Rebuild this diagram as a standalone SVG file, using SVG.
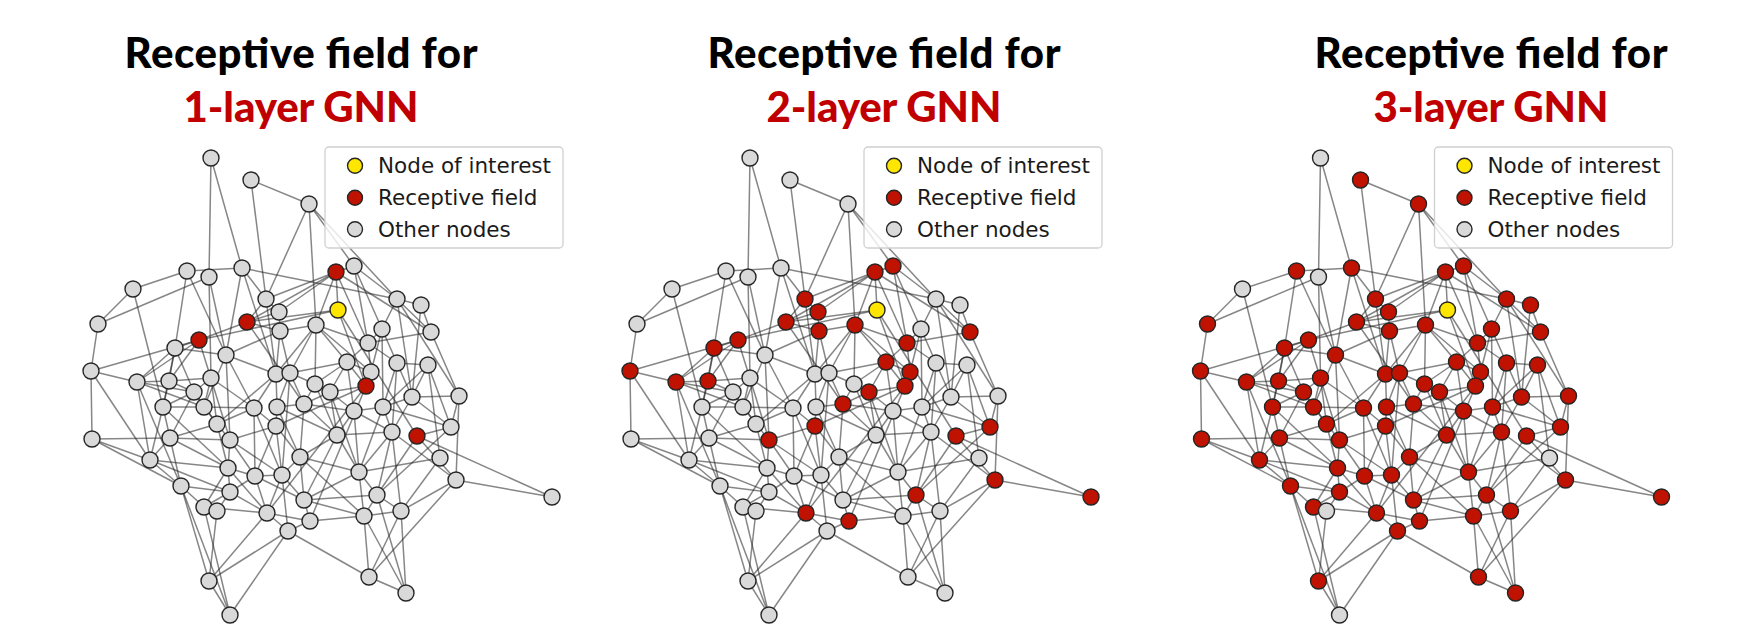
<svg xmlns="http://www.w3.org/2000/svg" xmlns:xlink="http://www.w3.org/1999/xlink" width="1738" height="642" viewBox="0 0 1738 642">
<style>
.t1{font-family:Lato,"Liberation Sans",sans-serif;font-weight:900;font-size:42px;fill:#000;text-anchor:middle}
.t2{font-family:Lato,"Liberation Sans",sans-serif;font-weight:900;font-size:42px;fill:#c00000;text-anchor:middle}
.lg{font-family:"DejaVu Sans",sans-serif;font-size:21.5px;fill:#1a1a1a}
.box{fill:#fff;fill-opacity:.8;stroke:#d0d0d0;stroke-width:1.3}
.e path{stroke:#222;stroke-opacity:.55;stroke-width:1.5;fill:none}
circle{stroke:#262626;stroke-width:1.4}
.g{fill:#d9d9d9}.r{fill:#c01200}.y{fill:#ffe600}
</style>
<defs>
<g id="edges" class="e">
<path d="M336 272L338 310"/><path d="M338 310L247 322"/><path d="M338 310L199 340"/><path d="M338 310L366 386"/><path d="M338 310L417 436"/>
<path d="M211 158L209 277"/><path d="M211 158L242 268"/><path d="M251 180L309 204"/><path d="M251 180L266 299"/>
<path d="M309 204L354 266"/><path d="M309 204L266 299"/><path d="M309 204L316 325"/><path d="M309 204L397 299"/>
<path d="M187 271L133 289"/><path d="M187 271L175 348"/><path d="M187 271L242 268"/><path d="M187 271L226 355"/>
<path d="M209 277L98 324"/><path d="M209 277L226 355"/><path d="M209 277L211 378"/>
<path d="M242 268L266 299"/><path d="M242 268L397 299"/><path d="M242 268L276 374"/><path d="M242 268L226 355"/>
<path d="M336 272L354 266"/><path d="M336 272L266 299"/><path d="M336 272L279 312"/><path d="M336 272L247 322"/><path d="M336 272L316 325"/><path d="M336 272L368 343"/><path d="M336 272L431 332"/>
<path d="M354 266L397 299"/><path d="M354 266L382 329"/><path d="M354 266L368 343"/>
<path d="M133 289L163 407"/><path d="M133 289L98 324"/><path d="M98 324L91 371"/>
<path d="M266 299L247 322"/><path d="M266 299L276 374"/><path d="M266 299L279 312"/>
<path d="M279 312L247 322"/><path d="M279 312L280 331"/>
<path d="M247 322L199 340"/><path d="M247 322L280 331"/><path d="M247 322L304 404"/>
<path d="M199 340L175 348"/><path d="M199 340L91 371"/><path d="M199 340L137 382"/><path d="M199 340L169 381"/><path d="M199 340L230 440"/>
<path d="M280 331L290 373"/><path d="M280 331L226 355"/><path d="M280 331L276 374"/><path d="M280 331L316 325"/>
<path d="M316 325L347 362"/><path d="M316 325L315 384"/><path d="M316 325L371 372"/><path d="M316 325L276 374"/><path d="M316 325L290 373"/><path d="M316 325L368 343"/>
<path d="M175 348L163 407"/><path d="M175 348L226 355"/><path d="M175 348L194 392"/><path d="M175 348L169 381"/><path d="M175 348L137 382"/>
<path d="M347 362L366 386"/><path d="M347 362L290 373"/><path d="M347 362L371 372"/><path d="M347 362L354 411"/><path d="M347 362L315 384"/><path d="M347 362L330 392"/><path d="M347 362L368 343"/>
<path d="M91 371L92 439"/><path d="M91 371L137 382"/><path d="M91 371L150 460"/>
<path d="M397 299L421 305"/><path d="M397 299L382 329"/><path d="M397 299L412 397"/><path d="M397 299L459 396"/><path d="M397 299L431 332"/>
<path d="M421 305L431 332"/><path d="M421 305L412 397"/><path d="M382 329L371 372"/><path d="M382 329L383 407"/><path d="M382 329L397 363"/><path d="M382 329L368 343"/>
<path d="M431 332L368 343"/><path d="M431 332L459 396"/>
<path d="M368 343L371 372"/><path d="M368 343L397 363"/>
<path d="M397 363L428 365"/><path d="M397 363L412 397"/><path d="M397 363L392 432"/><path d="M397 363L383 407"/>
<path d="M428 365L451 427"/><path d="M428 365L412 397"/><path d="M428 365L440 458"/><path d="M428 365L383 407"/>
<path d="M371 372L366 386"/>
<path d="M137 382L150 460"/><path d="M137 382L204 407"/><path d="M137 382L194 392"/><path d="M137 382L181 486"/><path d="M137 382L169 381"/>
<path d="M169 381L163 407"/><path d="M169 381L211 378"/><path d="M169 381L194 392"/>
<path d="M211 378L194 392"/><path d="M211 378L204 407"/><path d="M211 378L217 424"/><path d="M211 378L254 408"/>
<path d="M226 355L254 408"/><path d="M226 355L276 374"/><path d="M226 355L204 407"/><path d="M226 355L230 440"/>
<path d="M276 374L254 408"/><path d="M276 374L277 407"/><path d="M276 374L290 373"/><path d="M276 374L217 424"/>
<path d="M290 373L315 384"/><path d="M290 373L282 475"/><path d="M290 373L304 404"/><path d="M290 373L277 407"/>
<path d="M315 384L330 392"/><path d="M315 384L304 404"/><path d="M315 384L337 435"/>
<path d="M330 392L366 386"/><path d="M330 392L354 411"/><path d="M330 392L337 435"/><path d="M330 392L359 472"/><path d="M330 392L304 404"/>
<path d="M194 392L163 407"/><path d="M194 392L204 407"/><path d="M194 392L217 424"/><path d="M194 392L170 438"/>
<path d="M366 386L276 426"/><path d="M366 386L310 521"/><path d="M366 386L267 513"/>
<path d="M163 407L150 460"/><path d="M163 407L170 438"/><path d="M163 407L228 468"/><path d="M163 407L204 407"/>
<path d="M204 407L217 424"/><path d="M204 407L254 408"/>
<path d="M254 408L217 424"/><path d="M254 408L276 426"/><path d="M254 408L255 476"/><path d="M254 408L282 475"/>
<path d="M277 407L276 426"/><path d="M277 407L304 404"/><path d="M277 407L300 457"/><path d="M277 407L337 435"/>
<path d="M304 404L337 435"/><path d="M304 404L300 457"/><path d="M304 404L354 411"/>
<path d="M354 411L383 407"/><path d="M354 411L337 435"/><path d="M354 411L359 472"/><path d="M354 411L392 432"/>
<path d="M383 407L412 397"/><path d="M383 407L392 432"/><path d="M383 407L451 427"/><path d="M383 407L359 472"/>
<path d="M412 397L451 427"/><path d="M412 397L392 432"/><path d="M412 397L459 396"/><path d="M459 396L456 480"/><path d="M459 396L451 427"/>
<path d="M217 424L230 440"/><path d="M217 424L228 468"/><path d="M217 424L170 438"/>
<path d="M276 426L282 475"/><path d="M276 426L255 476"/><path d="M276 426L230 440"/><path d="M276 426L300 457"/>
<path d="M451 427L417 436"/><path d="M451 427L377 495"/>
<path d="M92 439L181 486"/><path d="M92 439L150 460"/><path d="M92 439L170 438"/>
<path d="M170 438L150 460"/><path d="M170 438L230 440"/><path d="M170 438L181 486"/><path d="M170 438L228 468"/>
<path d="M230 440L228 468"/><path d="M230 440L255 476"/><path d="M230 440L282 475"/>
<path d="M337 435L392 432"/><path d="M337 435L300 457"/><path d="M337 435L359 472"/><path d="M337 435L304 500"/>
<path d="M392 432L359 472"/><path d="M392 432L377 495"/><path d="M392 432L401 511"/><path d="M392 432L456 480"/>
<path d="M417 436L456 480"/><path d="M417 436L552 497"/><path d="M417 436L377 495"/>
<path d="M150 460L181 486"/><path d="M150 460L228 468"/><path d="M150 460L230 492"/>
<path d="M300 457L282 475"/><path d="M300 457L304 500"/><path d="M300 457L359 472"/><path d="M300 457L364 516"/>
<path d="M440 458L359 472"/><path d="M440 458L401 511"/>
<path d="M228 468L255 476"/><path d="M228 468L230 492"/><path d="M228 468L204 507"/><path d="M228 468L267 513"/>
<path d="M255 476L282 475"/><path d="M255 476L230 492"/><path d="M255 476L267 513"/><path d="M255 476L304 500"/>
<path d="M282 475L304 500"/><path d="M282 475L267 513"/><path d="M282 475L288 531"/>
<path d="M359 472L377 495"/><path d="M359 472L364 516"/><path d="M359 472L304 500"/>
<path d="M456 480L552 497"/><path d="M456 480L369 577"/><path d="M456 480L401 511"/>
<path d="M181 486L209 581"/><path d="M181 486L230 615"/><path d="M181 486L204 507"/><path d="M181 486L230 492"/>
<path d="M230 492L204 507"/><path d="M230 492L267 513"/><path d="M230 492L217 511"/>
<path d="M304 500L310 521"/><path d="M304 500L364 516"/><path d="M304 500L377 495"/>
<path d="M377 495L364 516"/><path d="M377 495L401 511"/><path d="M377 495L406 593"/>
<path d="M204 507L217 511"/><path d="M204 507L230 615"/><path d="M204 507L267 513"/>
<path d="M217 511L209 581"/>
<path d="M267 513L310 521"/><path d="M267 513L209 581"/><path d="M267 513L288 531"/>
<path d="M310 521L364 516"/><path d="M310 521L288 531"/>
<path d="M364 516L369 577"/><path d="M364 516L401 511"/><path d="M364 516L406 593"/><path d="M401 511L406 593"/><path d="M401 511L369 577"/>
<path d="M288 531L209 581"/><path d="M288 531L230 615"/><path d="M288 531L369 577"/>
<path d="M209 581L230 615"/><path d="M369 577L406 593"/>
</g>
</defs>

<g id="titles">
<text class="t1" x="301" y="68" textLength="353">Receptive field for</text>
<text class="t2" x="301" y="122" textLength="235">1-layer GNN</text>
<text class="t1" x="884" y="68" textLength="353">Receptive field for</text>
<text class="t2" x="884" y="122" textLength="235">2-layer GNN</text>
<text class="t1" x="1491" y="68" textLength="353">Receptive field for</text>
<text class="t2" x="1491" y="122" textLength="235">3-layer GNN</text>
</g>

<g id="panel1">
<g id="connectors-1"><use xlink:href="#edges" href="#edges"/></g>
<g id="nodes-1">
<circle id="p1n1" class="g" cx="211" cy="158" r="8"/><circle id="p1n2" class="g" cx="251" cy="180" r="8"/><circle id="p1n3" class="g" cx="309" cy="204" r="8"/><circle id="p1n4" class="g" cx="187" cy="271" r="8"/><circle id="p1n5" class="g" cx="209" cy="277" r="8"/><circle id="p1n6" class="g" cx="242" cy="268" r="8"/><circle id="p1n7" class="r" cx="336" cy="272" r="8"/><circle id="p1n8" class="g" cx="354" cy="266" r="8"/><circle id="p1n9" class="y" cx="338" cy="310" r="8"/><circle id="p1n10" class="g" cx="133" cy="289" r="8"/>
<circle id="p1n11" class="g" cx="98" cy="324" r="8"/><circle id="p1n12" class="g" cx="266" cy="299" r="8"/><circle id="p1n13" class="g" cx="279" cy="312" r="8"/><circle id="p1n14" class="r" cx="247" cy="322" r="8"/><circle id="p1n15" class="r" cx="199" cy="340" r="8"/><circle id="p1n16" class="g" cx="280" cy="331" r="8"/><circle id="p1n17" class="g" cx="316" cy="325" r="8"/><circle id="p1n18" class="g" cx="175" cy="348" r="8"/><circle id="p1n19" class="g" cx="226" cy="355" r="8"/><circle id="p1n20" class="g" cx="347" cy="362" r="8"/>
<circle id="p1n21" class="g" cx="91" cy="371" r="8"/><circle id="p1n22" class="g" cx="397" cy="299" r="8"/><circle id="p1n23" class="g" cx="421" cy="305" r="8"/><circle id="p1n24" class="g" cx="382" cy="329" r="8"/><circle id="p1n25" class="g" cx="431" cy="332" r="8"/><circle id="p1n26" class="g" cx="368" cy="343" r="8"/><circle id="p1n27" class="g" cx="397" cy="363" r="8"/><circle id="p1n28" class="g" cx="428" cy="365" r="8"/><circle id="p1n29" class="g" cx="371" cy="372" r="8"/><circle id="p1n30" class="g" cx="137" cy="382" r="8"/>
<circle id="p1n31" class="g" cx="169" cy="381" r="8"/><circle id="p1n32" class="g" cx="211" cy="378" r="8"/><circle id="p1n33" class="g" cx="276" cy="374" r="8"/><circle id="p1n34" class="g" cx="290" cy="373" r="8"/><circle id="p1n35" class="g" cx="315" cy="384" r="8"/><circle id="p1n36" class="g" cx="330" cy="392" r="8"/><circle id="p1n37" class="g" cx="194" cy="392" r="8"/><circle id="p1n38" class="r" cx="366" cy="386" r="8"/><circle id="p1n39" class="g" cx="163" cy="407" r="8"/><circle id="p1n40" class="g" cx="204" cy="407" r="8"/>
<circle id="p1n41" class="g" cx="254" cy="408" r="8"/><circle id="p1n42" class="g" cx="277" cy="407" r="8"/><circle id="p1n43" class="g" cx="304" cy="404" r="8"/><circle id="p1n44" class="g" cx="354" cy="411" r="8"/><circle id="p1n45" class="g" cx="383" cy="407" r="8"/><circle id="p1n46" class="g" cx="412" cy="397" r="8"/><circle id="p1n47" class="g" cx="459" cy="396" r="8"/><circle id="p1n48" class="g" cx="217" cy="424" r="8"/><circle id="p1n49" class="g" cx="276" cy="426" r="8"/><circle id="p1n50" class="g" cx="451" cy="427" r="8"/>
<circle id="p1n51" class="g" cx="92" cy="439" r="8"/><circle id="p1n52" class="g" cx="170" cy="438" r="8"/><circle id="p1n53" class="g" cx="230" cy="440" r="8"/><circle id="p1n54" class="g" cx="337" cy="435" r="8"/><circle id="p1n55" class="g" cx="392" cy="432" r="8"/><circle id="p1n56" class="r" cx="417" cy="436" r="8"/><circle id="p1n57" class="g" cx="150" cy="460" r="8"/><circle id="p1n58" class="g" cx="300" cy="457" r="8"/><circle id="p1n59" class="g" cx="440" cy="458" r="8"/><circle id="p1n60" class="g" cx="228" cy="468" r="8"/>
<circle id="p1n61" class="g" cx="255" cy="476" r="8"/><circle id="p1n62" class="g" cx="282" cy="475" r="8"/><circle id="p1n63" class="g" cx="359" cy="472" r="8"/><circle id="p1n64" class="g" cx="456" cy="480" r="8"/><circle id="p1n65" class="g" cx="552" cy="497" r="8"/><circle id="p1n66" class="g" cx="181" cy="486" r="8"/><circle id="p1n67" class="g" cx="230" cy="492" r="8"/><circle id="p1n68" class="g" cx="304" cy="500" r="8"/><circle id="p1n69" class="g" cx="377" cy="495" r="8"/><circle id="p1n70" class="g" cx="204" cy="507" r="8"/>
<circle id="p1n71" class="g" cx="217" cy="511" r="8"/><circle id="p1n72" class="g" cx="267" cy="513" r="8"/><circle id="p1n73" class="g" cx="310" cy="521" r="8"/><circle id="p1n74" class="g" cx="364" cy="516" r="8"/><circle id="p1n75" class="g" cx="401" cy="511" r="8"/><circle id="p1n76" class="g" cx="288" cy="531" r="8"/><circle id="p1n77" class="g" cx="209" cy="581" r="8"/><circle id="p1n78" class="g" cx="230" cy="615" r="8"/><circle id="p1n79" class="g" cx="369" cy="577" r="8"/><circle id="p1n80" class="g" cx="406" cy="593" r="8"/>
</g>
<g id="legend-1">
<rect class="box" x="325" y="147" width="238" height="101" rx="4"/>
<circle class="y" cx="355" cy="165.7" r="7.5"/><circle class="r" cx="355" cy="197.7" r="7.5"/><circle class="g" cx="355" cy="229.3" r="7.5"/>
<text class="lg" x="378" y="173">Node of interest</text><text class="lg" x="378" y="205">Receptive field</text><text class="lg" x="378" y="236.5">Other nodes</text>
</g>
</g>

<g id="panel2" transform="translate(539 0)">
<g id="connectors-2"><use xlink:href="#edges" href="#edges"/></g>
<g id="nodes-2">
<circle id="p2n1" class="g" cx="211" cy="158" r="8"/><circle id="p2n2" class="g" cx="251" cy="180" r="8"/><circle id="p2n3" class="g" cx="309" cy="204" r="8"/><circle id="p2n4" class="g" cx="187" cy="271" r="8"/><circle id="p2n5" class="g" cx="209" cy="277" r="8"/><circle id="p2n6" class="g" cx="242" cy="268" r="8"/><circle id="p2n7" class="r" cx="336" cy="272" r="8"/><circle id="p2n8" class="r" cx="354" cy="266" r="8"/><circle id="p2n9" class="y" cx="338" cy="310" r="8"/><circle id="p2n10" class="g" cx="133" cy="289" r="8"/>
<circle id="p2n11" class="g" cx="98" cy="324" r="8"/><circle id="p2n12" class="r" cx="266" cy="299" r="8"/><circle id="p2n13" class="r" cx="279" cy="312" r="8"/><circle id="p2n14" class="r" cx="247" cy="322" r="8"/><circle id="p2n15" class="r" cx="199" cy="340" r="8"/><circle id="p2n16" class="r" cx="280" cy="331" r="8"/><circle id="p2n17" class="r" cx="316" cy="325" r="8"/><circle id="p2n18" class="r" cx="175" cy="348" r="8"/><circle id="p2n19" class="g" cx="226" cy="355" r="8"/><circle id="p2n20" class="r" cx="347" cy="362" r="8"/>
<circle id="p2n21" class="r" cx="91" cy="371" r="8"/><circle id="p2n22" class="g" cx="397" cy="299" r="8"/><circle id="p2n23" class="g" cx="421" cy="305" r="8"/><circle id="p2n24" class="g" cx="382" cy="329" r="8"/><circle id="p2n25" class="r" cx="431" cy="332" r="8"/><circle id="p2n26" class="r" cx="368" cy="343" r="8"/><circle id="p2n27" class="g" cx="397" cy="363" r="8"/><circle id="p2n28" class="g" cx="428" cy="365" r="8"/><circle id="p2n29" class="r" cx="371" cy="372" r="8"/><circle id="p2n30" class="r" cx="137" cy="382" r="8"/>
<circle id="p2n31" class="r" cx="169" cy="381" r="8"/><circle id="p2n32" class="g" cx="211" cy="378" r="8"/><circle id="p2n33" class="g" cx="276" cy="374" r="8"/><circle id="p2n34" class="g" cx="290" cy="373" r="8"/><circle id="p2n35" class="g" cx="315" cy="384" r="8"/><circle id="p2n36" class="r" cx="330" cy="392" r="8"/><circle id="p2n37" class="g" cx="194" cy="392" r="8"/><circle id="p2n38" class="r" cx="366" cy="386" r="8"/><circle id="p2n39" class="g" cx="163" cy="407" r="8"/><circle id="p2n40" class="g" cx="204" cy="407" r="8"/>
<circle id="p2n41" class="g" cx="254" cy="408" r="8"/><circle id="p2n42" class="g" cx="277" cy="407" r="8"/><circle id="p2n43" class="r" cx="304" cy="404" r="8"/><circle id="p2n44" class="g" cx="354" cy="411" r="8"/><circle id="p2n45" class="g" cx="383" cy="407" r="8"/><circle id="p2n46" class="g" cx="412" cy="397" r="8"/><circle id="p2n47" class="g" cx="459" cy="396" r="8"/><circle id="p2n48" class="g" cx="217" cy="424" r="8"/><circle id="p2n49" class="r" cx="276" cy="426" r="8"/><circle id="p2n50" class="r" cx="451" cy="427" r="8"/>
<circle id="p2n51" class="g" cx="92" cy="439" r="8"/><circle id="p2n52" class="g" cx="170" cy="438" r="8"/><circle id="p2n53" class="r" cx="230" cy="440" r="8"/><circle id="p2n54" class="g" cx="337" cy="435" r="8"/><circle id="p2n55" class="g" cx="392" cy="432" r="8"/><circle id="p2n56" class="r" cx="417" cy="436" r="8"/><circle id="p2n57" class="g" cx="150" cy="460" r="8"/><circle id="p2n58" class="g" cx="300" cy="457" r="8"/><circle id="p2n59" class="g" cx="440" cy="458" r="8"/><circle id="p2n60" class="g" cx="228" cy="468" r="8"/>
<circle id="p2n61" class="g" cx="255" cy="476" r="8"/><circle id="p2n62" class="g" cx="282" cy="475" r="8"/><circle id="p2n63" class="g" cx="359" cy="472" r="8"/><circle id="p2n64" class="r" cx="456" cy="480" r="8"/><circle id="p2n65" class="r" cx="552" cy="497" r="8"/><circle id="p2n66" class="g" cx="181" cy="486" r="8"/><circle id="p2n67" class="g" cx="230" cy="492" r="8"/><circle id="p2n68" class="g" cx="304" cy="500" r="8"/><circle id="p2n69" class="r" cx="377" cy="495" r="8"/><circle id="p2n70" class="g" cx="204" cy="507" r="8"/>
<circle id="p2n71" class="g" cx="217" cy="511" r="8"/><circle id="p2n72" class="r" cx="267" cy="513" r="8"/><circle id="p2n73" class="r" cx="310" cy="521" r="8"/><circle id="p2n74" class="g" cx="364" cy="516" r="8"/><circle id="p2n75" class="g" cx="401" cy="511" r="8"/><circle id="p2n76" class="g" cx="288" cy="531" r="8"/><circle id="p2n77" class="g" cx="209" cy="581" r="8"/><circle id="p2n78" class="g" cx="230" cy="615" r="8"/><circle id="p2n79" class="g" cx="369" cy="577" r="8"/><circle id="p2n80" class="g" cx="406" cy="593" r="8"/>
</g>
<g id="legend-2">
<rect class="box" x="325" y="147" width="238" height="101" rx="4"/>
<circle class="y" cx="355" cy="165.7" r="7.5"/><circle class="r" cx="355" cy="197.7" r="7.5"/><circle class="g" cx="355" cy="229.3" r="7.5"/>
<text class="lg" x="378" y="173">Node of interest</text><text class="lg" x="378" y="205">Receptive field</text><text class="lg" x="378" y="236.5">Other nodes</text>
</g>
</g>

<g id="panel3" transform="translate(1109.5 0)">
<g id="connectors-3"><use xlink:href="#edges" href="#edges"/></g>
<g id="nodes-3">
<circle id="p3n1" class="g" cx="211" cy="158" r="8"/><circle id="p3n2" class="r" cx="251" cy="180" r="8"/><circle id="p3n3" class="r" cx="309" cy="204" r="8"/><circle id="p3n4" class="r" cx="187" cy="271" r="8"/><circle id="p3n5" class="g" cx="209" cy="277" r="8"/><circle id="p3n6" class="r" cx="242" cy="268" r="8"/><circle id="p3n7" class="r" cx="336" cy="272" r="8"/><circle id="p3n8" class="r" cx="354" cy="266" r="8"/><circle id="p3n9" class="y" cx="338" cy="310" r="8"/><circle id="p3n10" class="g" cx="133" cy="289" r="8"/>
<circle id="p3n11" class="r" cx="98" cy="324" r="8"/><circle id="p3n12" class="r" cx="266" cy="299" r="8"/><circle id="p3n13" class="r" cx="279" cy="312" r="8"/><circle id="p3n14" class="r" cx="247" cy="322" r="8"/><circle id="p3n15" class="r" cx="199" cy="340" r="8"/><circle id="p3n16" class="r" cx="280" cy="331" r="8"/><circle id="p3n17" class="r" cx="316" cy="325" r="8"/><circle id="p3n18" class="r" cx="175" cy="348" r="8"/><circle id="p3n19" class="r" cx="226" cy="355" r="8"/><circle id="p3n20" class="r" cx="347" cy="362" r="8"/>
<circle id="p3n21" class="r" cx="91" cy="371" r="8"/><circle id="p3n22" class="r" cx="397" cy="299" r="8"/><circle id="p3n23" class="r" cx="421" cy="305" r="8"/><circle id="p3n24" class="r" cx="382" cy="329" r="8"/><circle id="p3n25" class="r" cx="431" cy="332" r="8"/><circle id="p3n26" class="r" cx="368" cy="343" r="8"/><circle id="p3n27" class="r" cx="397" cy="363" r="8"/><circle id="p3n28" class="r" cx="428" cy="365" r="8"/><circle id="p3n29" class="r" cx="371" cy="372" r="8"/><circle id="p3n30" class="r" cx="137" cy="382" r="8"/>
<circle id="p3n31" class="r" cx="169" cy="381" r="8"/><circle id="p3n32" class="r" cx="211" cy="378" r="8"/><circle id="p3n33" class="r" cx="276" cy="374" r="8"/><circle id="p3n34" class="r" cx="290" cy="373" r="8"/><circle id="p3n35" class="r" cx="315" cy="384" r="8"/><circle id="p3n36" class="r" cx="330" cy="392" r="8"/><circle id="p3n37" class="r" cx="194" cy="392" r="8"/><circle id="p3n38" class="r" cx="366" cy="386" r="8"/><circle id="p3n39" class="r" cx="163" cy="407" r="8"/><circle id="p3n40" class="r" cx="204" cy="407" r="8"/>
<circle id="p3n41" class="r" cx="254" cy="408" r="8"/><circle id="p3n42" class="r" cx="277" cy="407" r="8"/><circle id="p3n43" class="r" cx="304" cy="404" r="8"/><circle id="p3n44" class="r" cx="354" cy="411" r="8"/><circle id="p3n45" class="r" cx="383" cy="407" r="8"/><circle id="p3n46" class="r" cx="412" cy="397" r="8"/><circle id="p3n47" class="r" cx="459" cy="396" r="8"/><circle id="p3n48" class="r" cx="217" cy="424" r="8"/><circle id="p3n49" class="r" cx="276" cy="426" r="8"/><circle id="p3n50" class="r" cx="451" cy="427" r="8"/>
<circle id="p3n51" class="r" cx="92" cy="439" r="8"/><circle id="p3n52" class="r" cx="170" cy="438" r="8"/><circle id="p3n53" class="r" cx="230" cy="440" r="8"/><circle id="p3n54" class="r" cx="337" cy="435" r="8"/><circle id="p3n55" class="r" cx="392" cy="432" r="8"/><circle id="p3n56" class="r" cx="417" cy="436" r="8"/><circle id="p3n57" class="r" cx="150" cy="460" r="8"/><circle id="p3n58" class="r" cx="300" cy="457" r="8"/><circle id="p3n59" class="g" cx="440" cy="458" r="8"/><circle id="p3n60" class="r" cx="228" cy="468" r="8"/>
<circle id="p3n61" class="r" cx="255" cy="476" r="8"/><circle id="p3n62" class="r" cx="282" cy="475" r="8"/><circle id="p3n63" class="r" cx="359" cy="472" r="8"/><circle id="p3n64" class="r" cx="456" cy="480" r="8"/><circle id="p3n65" class="r" cx="552" cy="497" r="8"/><circle id="p3n66" class="r" cx="181" cy="486" r="8"/><circle id="p3n67" class="r" cx="230" cy="492" r="8"/><circle id="p3n68" class="r" cx="304" cy="500" r="8"/><circle id="p3n69" class="r" cx="377" cy="495" r="8"/><circle id="p3n70" class="r" cx="204" cy="507" r="8"/>
<circle id="p3n71" class="g" cx="217" cy="511" r="8"/><circle id="p3n72" class="r" cx="267" cy="513" r="8"/><circle id="p3n73" class="r" cx="310" cy="521" r="8"/><circle id="p3n74" class="r" cx="364" cy="516" r="8"/><circle id="p3n75" class="r" cx="401" cy="511" r="8"/><circle id="p3n76" class="r" cx="288" cy="531" r="8"/><circle id="p3n77" class="r" cx="209" cy="581" r="8"/><circle id="p3n78" class="g" cx="230" cy="615" r="8"/><circle id="p3n79" class="r" cx="369" cy="577" r="8"/><circle id="p3n80" class="r" cx="406" cy="593" r="8"/>
</g>
<g id="legend-3">
<rect class="box" x="325" y="147" width="238" height="101" rx="4"/>
<circle class="y" cx="355" cy="165.7" r="7.5"/><circle class="r" cx="355" cy="197.7" r="7.5"/><circle class="g" cx="355" cy="229.3" r="7.5"/>
<text class="lg" x="378" y="173">Node of interest</text><text class="lg" x="378" y="205">Receptive field</text><text class="lg" x="378" y="236.5">Other nodes</text>
</g>
</g>
</svg>
